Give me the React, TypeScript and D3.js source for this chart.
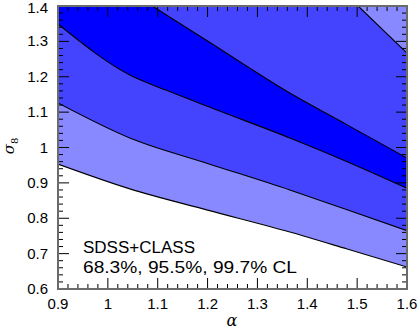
import React from "react";
import * as d3 from "d3";

const alphaTicks = [0.9, 1.0, 1.1, 1.2, 1.3, 1.4, 1.5, 1.6];
const alphaLabels = ["0.9", "1", "1.1", "1.2", "1.3", "1.4", "1.5", "1.6"];
const sigmaTicks = [0.6, 0.7, 0.8, 0.9, 1.0, 1.1, 1.2, 1.3, 1.4];
const sigmaLabels = ["0.6", "0.7", "0.8", "0.9", "1", "1.1", "1.2", "1.3", "1.4"];

// contour boundaries [alpha, sigma8]
const cl997Lower: [number, number][] = [
  [0.9, 0.953], [1.044, 0.883], [1.2, 0.823], [1.365, 0.761], [1.48, 0.713], [1.6, 0.662],
];
const cl955Lower: [number, number][] = [
  [0.9, 1.126], [1.044, 1.027], [1.2, 0.955], [1.365, 0.88], [1.48, 0.824], [1.6, 0.765],
];
const cl683Lower: [number, number][] = [
  [0.9, 1.349], [1.044, 1.205], [1.115, 1.163], [1.219, 1.106], [1.365, 1.027], [1.48, 0.96], [1.6, 0.885],
];
const cl683Upper: [number, number][] = [
  [1.05, 1.435], [1.089, 1.4], [1.2, 1.301], [1.365, 1.154], [1.48, 1.064], [1.6, 0.97],
];
const cl955Upper: [number, number][] = [
  [1.48, 1.43], [1.502, 1.4], [1.6, 1.267],
];

const W = 420, H = 334;
const L = 58, R = 407, T = 6, B = 289;
const cDark = "#0000ff", cMid = "#4444ff", cLight = "#8888ff";

export default function App() {
  const x = d3.scaleLinear().domain([0.9, 1.6]).range([L, R]);
  const y = d3.scaleLinear().domain([0.6, 1.4]).range([B, T]);
  const line = d3.line<[number, number]>().x(d => x(d[0])).y(d => y(d[1])).curve(d3.curveMonotoneX);
  const seg = (pts: [number, number][]) => (line(pts) || "");
  const extTop = (pts: [number, number][], right: number) =>
    seg(pts) + `L${x(right)},${y(pts[pts.length - 1][1])}L${x(right)},${T - 40}L${x(pts[0][0])},${T - 40}Z`;

  const layers: { pts: [number, number][]; fill: string }[] = [
    { pts: cl997Lower, fill: cLight },
    { pts: cl955Lower, fill: cMid },
    { pts: cl683Lower, fill: cDark },
    { pts: cl683Upper, fill: cMid },
    { pts: cl955Upper, fill: cLight },
  ];

  const xMinor = d3.range(0, 36).map(i => 0.9 + i * 0.02);
  const yMinor = d3.range(0, 41).map(i => 0.6 + i * 0.02);
  const isMajor = (v: number) => Math.abs(v * 10 - Math.round(v * 10)) < 1e-6;
  const maj = 11, mnr = 5;
  const font = "'Liberation Sans', Arial, sans-serif";

  return (
    <svg width={W} height={H} style={{ position: "absolute", left: 0, top: 0, background: "#fff" }}>
      <defs>
        <clipPath id="plot"><rect x={L} y={T} width={R - L} height={B - T} /></clipPath>
      </defs>
      <g clipPath="url(#plot)">
        {layers.map((l, i) => (
          <path key={"a" + i} d={extTop(l.pts, 1.7)} fill={l.fill} />
        ))}
        {layers.map((l, i) => (
          <path key={"l" + i} d={seg(l.pts)} fill="none" stroke="#000" strokeWidth={1.1} />
        ))}
      </g>
      <g stroke="#000" strokeWidth={1}>
        {xMinor.map((v, i) => {
          const len = isMajor(v) ? maj : mnr;
          const px = x(v);
          return (
            <g key={"x" + i}>
              <line x1={px} x2={px} y1={B} y2={B - len} />
              <line x1={px} x2={px} y1={T} y2={T + len} />
            </g>
          );
        })}
        {yMinor.map((v, i) => {
          const len = isMajor(v) ? maj : mnr;
          const py = y(v);
          return (
            <g key={"y" + i}>
              <line x1={L} x2={L + len} y1={py} y2={py} />
              <line x1={R} x2={R - len} y1={py} y2={py} />
            </g>
          );
        })}
      </g>
      <rect x={L} y={T} width={R - L} height={B - T} fill="none" stroke="#6b6b6b" strokeWidth={2} />
      <g fontFamily={font} fontSize={15} fill="#000">
        {alphaTicks.map((v, i) => (
          <text key={"xl" + i} x={x(v)} y={309} textAnchor="middle">{alphaLabels[i]}</text>
        ))}
        {sigmaTicks.map((v, i) => (
          <text key={"yl" + i} x={48} y={Math.max(y(v) + 5, 13)} textAnchor="end">{sigmaLabels[i]}</text>
        ))}
      </g>
      <text x={232} y={326} textAnchor="middle" fontFamily="'DejaVu Serif', serif" fontStyle="italic" fontSize={16}>α</text>
      <text transform={`translate(14,${146}) rotate(-90)`} textAnchor="middle" fontFamily="'DejaVu Serif', serif" fontStyle="italic" fontSize={15}>
        σ<tspan fontSize={10} dy={4} fontStyle="normal">8</tspan>
      </text>
      <g fontFamily={font} fontSize={16} fill="#000">
        <text x={83} y={253} textLength={112} lengthAdjust="spacingAndGlyphs">SDSS+CLASS</text>
        <text x={83} y={273} textLength={214} lengthAdjust="spacingAndGlyphs">68.3%, 95.5%, 99.7% CL</text>
      </g>
    </svg>
  );
}
